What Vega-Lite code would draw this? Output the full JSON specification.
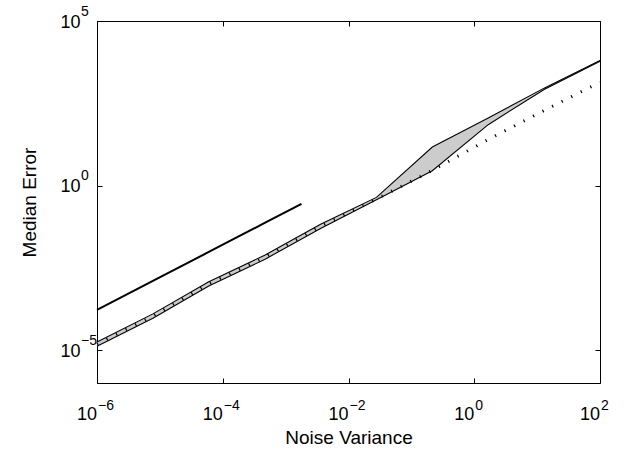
{
  "$schema": "https://vega.github.io/schema/vega-lite/v6.json",
  "width": 503,
  "height": 362,
  "autosize": {"type": "none"},
  "padding": {"left": 97, "top": 21, "right": 37, "bottom": 74},
  "background": "white",
  "config": {
    "view": {"stroke": "black", "strokeWidth": 1},
    "axis": {
      "grid": false,
      "domain": false,
      "tickColor": "black",
      "tickWidth": 1,
      "labelColor": "black",
      "titleColor": "black",
      "labelFont": "Liberation Sans",
      "titleFont": "Liberation Sans",
      "titleFontWeight": "normal",
      "labelFlush": false,
      "labelOverlap": false,
      "labelBound": false
    }
  },
  "datasets": {
    "band": [
      {"x": 1e-6, "lo": 1.303e-5, "hi": 1.758e-5, "med": 1.514e-5},
      {"x": 7.743e-6, "lo": 9.33e-5, "hi": 1.259e-4, "med": 1.084e-4},
      {"x": 5.995e-5, "lo": 8.81e-4, "hi": 1.189e-3, "med": 1.023e-3},
      {"x": 4.642e-4, "lo": 5.689e-3, "hi": 7.674e-3, "med": 6.607e-3},
      {"x": 3.594e-3, "lo": 4.955e-2, "hi": 6.683e-2, "med": 5.754e-2},
      {"x": 2.783e-2, "lo": 0.3715, "hi": 0.4365, "med": 0.389},
      {"x": 0.2154, "lo": 2.818, "hi": 14.79, "med": 2.884},
      {"x": 1.668, "lo": 70.79, "hi": 112.2, "med": 25.12},
      {"x": 12.92, "lo": 831.8, "hi": 912.0, "med": 190.5},
      {"x": 100, "lo": 6026, "hi": 6310, "med": 1380}
    ],
    "solid": [
      {"x": 1e-6, "y": 1.66e-4},
      {"x": 7.743e-6, "y": 1.262e-3},
      {"x": 5.995e-5, "y": 9.59e-3},
      {"x": 4.642e-4, "y": 7.29e-2},
      {"x": 1.79e-3, "y": 0.278}
    ]
  },
  "resolve": {"axis": {"x": "independent", "y": "independent"}},
  "layer": [
    {
      "data": {"name": "band"},
      "mark": {"type": "area", "fill": "#cccccc", "strokeWidth": 0},
      "encoding": {
        "x": {
          "field": "x", "type": "quantitative",
          "scale": {"type": "log", "domain": [1e-6, 100], "nice": false},
          "axis": {
            "orient": "bottom",
            "values": [1e-6, 1e-4, 0.01, 1, 100],
            "labelExpr": "'10'",
            "labelAlign": "right",
            "labelBaseline": "top",
            "labelFontSize": 18,
            "labelPadding": 27,
            "labelOffset": -0.5,
            "tickSize": -5,
            "title": "Noise Variance",
            "titleFontSize": 19,
            "titlePadding": 5
          }
        },
        "y": {
          "field": "lo", "type": "quantitative",
          "scale": {"type": "log", "domain": [1e-6, 100000], "nice": false},
          "axis": {
            "orient": "left",
            "values": [1e-5, 1, 100000],
            "labelExpr": "'10'",
            "labelAlign": "right",
            "labelBaseline": "middle",
            "labelFontSize": 18,
            "labelPadding": 22,
            "labelOffset": 1,
            "tickSize": -5,
            "title": "Median Error",
            "titleFontSize": 19,
            "titlePadding": 20
          }
        },
        "y2": {"field": "hi"}
      }
    },
    {
      "data": {"name": "band"},
      "mark": {"type": "line", "color": "black", "strokeWidth": 1.1},
      "encoding": {
        "x": {
          "field": "x", "type": "quantitative",
          "scale": {"type": "log", "domain": [1e-6, 100], "nice": false},
          "axis": {
            "orient": "bottom",
            "values": [1e-6, 1e-4, 0.01, 1, 100],
            "labelExpr": "datum.value < 1 ? '−' + format(round(-log(datum.value)/LN10), 'd') : format(round(log(datum.value)/LN10), 'd')",
            "labelAlign": "left",
            "labelBaseline": "top",
            "labelFontSize": 14,
            "labelPadding": 15,
            "labelOffset": 0.5,
            "ticks": false,
            "title": null
          }
        },
        "y": {
          "field": "hi", "type": "quantitative",
          "scale": {"type": "log", "domain": [1e-6, 100000], "nice": false},
          "axis": {
            "orient": "left",
            "values": [1e-5, 1, 100000],
            "labelExpr": "datum.value < 1 ? '−' + format(round(-log(datum.value)/LN10), 'd') : format(round(log(datum.value)/LN10), 'd')",
            "labelAlign": "left",
            "labelBaseline": "middle",
            "labelFontSize": 14,
            "labelPadding": 16.5,
            "labelOffset": -10,
            "ticks": false,
            "title": null
          }
        }
      }
    },
    {
      "data": {"name": "band"},
      "mark": {"type": "line", "color": "black", "strokeWidth": 1.1},
      "encoding": {
        "x": {
          "field": "x", "type": "quantitative",
          "scale": {"type": "log", "domain": [1e-6, 100], "nice": false},
          "axis": {
            "orient": "top",
            "values": [1e-6, 1e-4, 0.01, 1, 100],
            "labels": false,
            "tickSize": -5,
            "title": null
          }
        },
        "y": {
          "field": "lo", "type": "quantitative",
          "scale": {"type": "log", "domain": [1e-6, 100000], "nice": false},
          "axis": {
            "orient": "right",
            "values": [1e-5, 1, 100000],
            "labels": false,
            "tickSize": -5,
            "title": null
          }
        }
      }
    },
    {
      "data": {"name": "band"},
      "mark": {"type": "line", "color": "black", "strokeWidth": 3, "strokeDash": [1.2, 9.5], "strokeCap": "butt"},
      "encoding": {
        "x": {"field": "x", "type": "quantitative", "scale": {"type": "log", "domain": [1e-6, 100], "nice": false}, "axis": null},
        "y": {"field": "med", "type": "quantitative", "scale": {"type": "log", "domain": [1e-6, 100000], "nice": false}, "axis": null}
      }
    },
    {
      "data": {"name": "solid"},
      "mark": {"type": "line", "color": "black", "strokeWidth": 2},
      "encoding": {
        "x": {"field": "x", "type": "quantitative", "scale": {"type": "log", "domain": [1e-6, 100], "nice": false}, "axis": null},
        "y": {"field": "y", "type": "quantitative", "scale": {"type": "log", "domain": [1e-6, 100000], "nice": false}, "axis": null}
      }
    }
  ]
}
